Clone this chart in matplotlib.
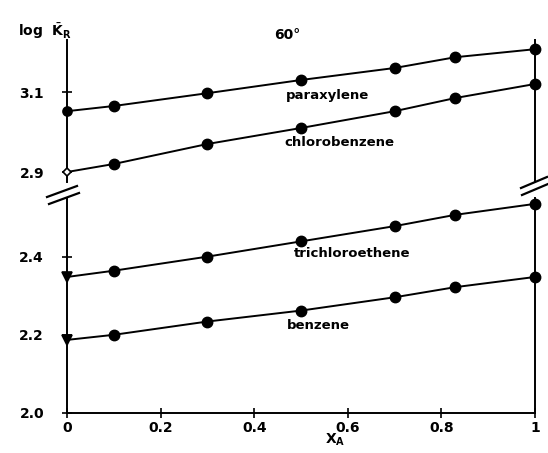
import matplotlib.pyplot as plt
from matplotlib.lines import Line2D

# mole fraction of A
x_a = [0, 0.1, 0.3, 0.5, 0.7, 0.83, 1.0]

# log K_R for each solute at 60 C
paraxylene = [3.052, 3.065, 3.097, 3.130, 3.160, 3.187, 3.207]
chlorobenzene = [2.900, 2.920, 2.970, 3.010, 3.052, 3.085, 3.120]
trichloroethene = [2.348, 2.364, 2.400, 2.439, 2.478, 2.507, 2.535]
benzene = [2.187, 2.200, 2.234, 2.262, 2.296, 2.322, 2.348]

x_ticks = [0, 0.2, 0.4, 0.6, 0.8, 1.0]
x_tick_labels = ['0', '0.2', '0.4', '0.6', '0.8', '1']
hi_ticks = [2.9, 3.1]
lo_ticks = [2.0, 2.2, 2.4]

W, H = 548, 453
fig = plt.figure(figsize=(W / 100, H / 100), dpi=100)

def px(x0, y0, x1, y1):
    # pixel box -> figure fraction rect
    return [x0 / W, 1 - y1 / H, (x1 - x0) / W, (y1 - y0) / H]

ax_hi = fig.add_axes(px(67, 40, 535, 182))
ax_lo = fig.add_axes(px(67, 198, 535, 413))

tick_font = dict(fontsize=10, fontweight='bold')

for ax in (ax_hi, ax_lo):
    ax.set_xlim(0, 1)
    ax.spines['top'].set_visible(False)
    for s in ax.spines.values():
        s.set_linewidth(1.4)
    ax.tick_params(axis='y', direction='inout', length=7, width=1.2, pad=13)
    ax.set_facecolor('none')

ax_hi.set_ylim(2.875, 3.23)
ax_hi.spines['bottom'].set_visible(False)
ax_hi.set_xticks([])
ax_hi.set_yticks(hi_ticks)
ax_hi.set_yticklabels([f'{v:.1f}' for v in hi_ticks], **tick_font)

ax_lo.set_ylim(2.0, 2.55)
ax_lo.set_yticks(lo_ticks)
ax_lo.set_yticklabels([f'{v:.1f}' for v in lo_ticks], **tick_font)
ax_lo.set_xticks(x_ticks)
ax_lo.set_xticklabels(x_tick_labels, **tick_font)
ax_lo.tick_params(axis='x', direction='inout', length=7, width=1.2, pad=2)

series = [
    (ax_hi, paraxylene, 'o', 'k', 'paraxylene', 0.557, 3.0925),
    (ax_hi, chlorobenzene, 'D', 'white', 'chlorobenzene', 0.582, 2.9725),
    (ax_lo, trichloroethene, 'v', 'k', 'trichloroethene', 0.61, 2.408),
    (ax_lo, benzene, 'v', 'k', 'benzene', 0.538, 2.223),
]

for ax, y, first_marker, first_face, name, lx, ly in series:
    ax.plot(x_a, y, color='k', lw=1.4, zorder=2)
    ax.plot(x_a[1:], y[1:], 'o', color='k', ms=7.5, zorder=3, clip_on=False)
    ax.plot(x_a[:1], y[:1], first_marker, mfc=first_face, mec='k', mew=1.2,
            ms=6.5 if first_marker != 'D' else 4.5, zorder=4, clip_on=False)
    ax.text(lx, ly, name, ha='center', va='center', fontsize=9.5,
            fontweight='bold')

# axis break marks
for (x0, y0, x1, y1) in [(47, 197, 77, 186), (49, 204, 79, 193),
                         (521, 188, 547, 177), (522, 195, 548, 184)]:
    fig.add_artist(Line2D([x0 / W, x1 / W], [1 - y0 / H, 1 - y1 / H],
                          color='k', lw=1.6))

fig.text(18 / W, 1 - 31 / H, r'$\mathbf{log}\ \ \bar{\mathbf{K}}_{\mathbf{R}}$',
         fontsize=10, ha='left', va='center')
fig.text(287 / W, 1 - 35 / H, '60°', fontsize=10, fontweight='bold',
         ha='center', va='center')
fig.text(325 / W, 1 - 440 / H, r'$\mathbf{X_A}$', fontsize=10,
         ha='left', va='center')

fig.savefig('out.png', dpi=100)
